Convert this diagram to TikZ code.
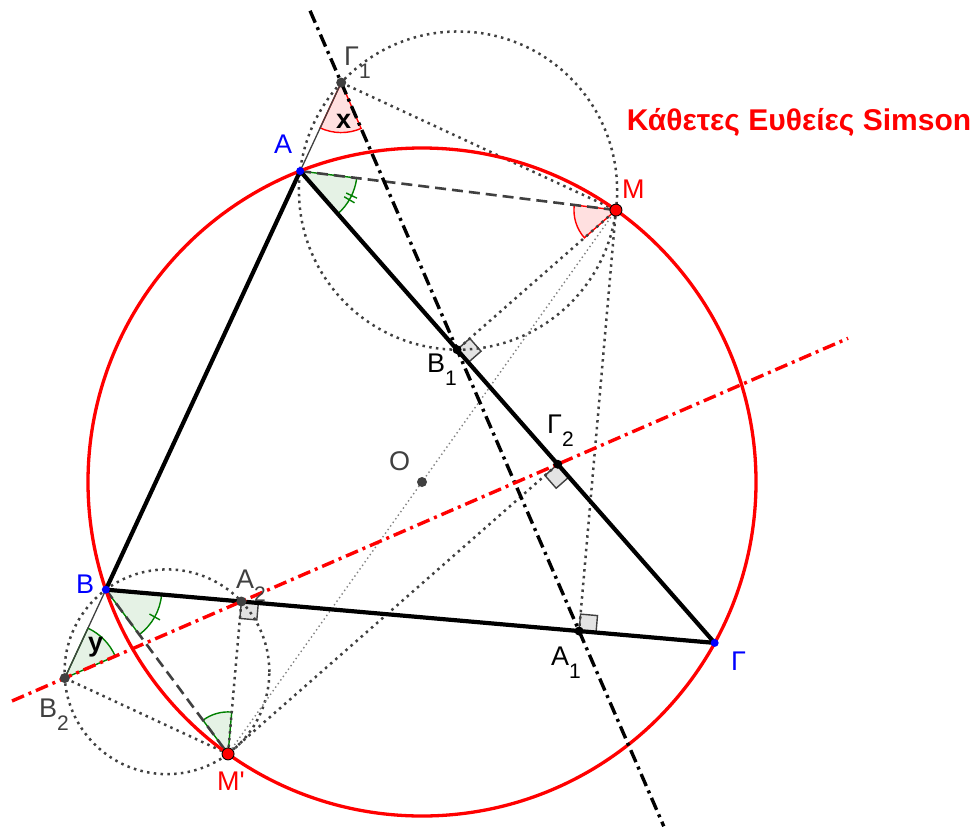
\documentclass[tikz,border=0pt]{standalone}
\usepackage{fontspec}
\setmainfont{Liberation Sans}
\usetikzlibrary{calc}
\definecolor{ptgray}{RGB}{64,64,64}
\definecolor{anggreen}{RGB}{0,128,0}
\newcommand{\sublbl}[2]{#1\raisebox{-13pt}{\fontsize{21}{21}\selectfont #2}}
\newcommand{\angsec}[5]{%
  \draw[#1] let \p1=($(#2)-(#3)$), \p2=($(#4)-(#3)$),
    \n1={atan2(\y1,\x1)}, \n2={mod(atan2(\y2,\x2)-atan2(\y1,\x1)+720,360)}
    in (#3) -- ++(\n1:#5) arc[start angle=\n1, delta angle=\n2, radius=#5] -- cycle;}
\newcommand{\rtmark}[3]{%
  \path ($(#1)!17pt!(#2)$) coordinate (ra) ($(#1)!17pt!(#3)$) coordinate (rb);
  \draw[rbox] (#1) -- (ra) -- ($(ra)+(rb)-(#1)$) -- (rb) -- cycle;}

\begin{document}
\begin{tikzpicture}[x=1pt,y=-1pt,
  dots/.style={ptgray,line width=2.5pt,dash pattern=on 2.5pt off 4.3pt},
  thindots/.style={gray,line width=1.4pt,dash pattern=on 1.4pt off 3pt},
  dashln/.style={ptgray,line width=2.6pt,dash pattern=on 11pt off 6pt},
  thinln/.style={ptgray,line width=1.3pt},
  tri/.style={black,line width=4.2pt,line join=round},
  simson/.style={line width=3.4pt,dash pattern=on 13pt off 5pt on 3pt off 5pt},
  pinkang/.style={draw=red,line width=1.4pt,fill=red,fill opacity=0.12},
  greenang/.style={draw=anggreen,line width=1.4pt,fill=anggreen,fill opacity=0.1},
  tick/.style={anggreen,line width=1.4pt},
  rbox/.style={draw=ptgray,line width=1.4pt,fill=gray!22},
  lbl/.style={anchor=base west,inner sep=0pt,font=\fontsize{27}{27}\selectfont},
  anglbl/.style={anchor=base west,inner sep=0pt,font=\bfseries\fontsize{27}{27}\selectfont}]
\useasboundingbox (0,0) rectangle (979,830);

\coordinate (O) at (422,482);
\coordinate (A) at ($(O)+(248.6:334)$);
\coordinate (B) at ($(O)+(161.2:334)$);
\coordinate (G) at ($(O)+(28.8:334)$);
\coordinate (M) at ($(O)+(305.5:334)$);
\coordinate (Mp) at ($(O)+(125.5:334)$);
\coordinate (G1) at ($(A)!(M)!(B)$);
\coordinate (B1) at ($(A)!(M)!(G)$);
\coordinate (A1) at ($(B)!(M)!(G)$);
\coordinate (B2) at ($(A)!(Mp)!(B)$);
\coordinate (G2) at ($(A)!(Mp)!(G)$);
\coordinate (A2) at ($(B)!(Mp)!(G)$);
\coordinate (s1) at ($(G1)!-0.131!(A1)$);
\coordinate (s2) at ($(G1)!1.356!(A1)$);
\coordinate (t1) at ($(B2)!-0.107!(G2)$);
\coordinate (t2) at ($(B2)!1.589!(G2)$);

% angles and right angles
\angsec{pinkang}{A}{G1}{B1}{50pt}
\angsec{pinkang}{A}{M}{B1}{42pt}
\angsec{greenang}{G}{A}{M}{57pt}
\angsec{greenang}{Mp}{B}{G}{56pt}
\angsec{greenang}{G2}{B2}{B}{55pt}
\angsec{greenang}{A2}{Mp}{B}{42pt}
\draw[tick] ($(A)+(-25.5:51pt)$) -- ($(A)+(-25.5:63pt)$);
\draw[tick] ($(A)+(-30.3:51pt)$) -- ($(A)+(-30.3:63pt)$);
\draw[tick] ($(B)+(-29.2:50pt)$) -- ($(B)+(-29.2:62pt)$);
\rtmark{B1}{G}{M}
\rtmark{A1}{G}{M}
\rtmark{G2}{G}{Mp}
\rtmark{A2}{G}{Mp}

% circles through the feet
\draw[dots] let \p1=($(M)-(A)$), \n1={veclen(\x1,\y1)/2} in ($(A)!0.5!(M)$) circle[radius=\n1];
\draw[dots] let \p1=($(Mp)-(B)$), \n1={veclen(\x1,\y1)/2} in ($(B)!0.5!(Mp)$) circle[radius=\n1];
\draw[dots] (G1) -- (M) -- (B1);
\draw[dots] (M) -- (A1);
\draw[dots] (Mp) -- (A2);
\draw[dots] (Mp) -- (B2);
\draw[dots] (Mp) -- (G2);
\draw[thindots] (M) -- (Mp);
\draw[thinln] (A) -- (G1);
\draw[thinln] (B) -- (B2);
\draw[dashln] (A) -- (M);
\draw[dashln] (B) -- (Mp);

\draw[red,line width=3.3pt] (O) circle[radius=334pt];
\draw[tri] (A) -- (B) -- (G) -- cycle;
\draw[simson,black] (s1) -- (s2);
\draw[simson,red] (t1) -- (t2);

% points
\foreach \p in {A,B,G} \fill[blue] (\p) circle[radius=4pt];
\foreach \p in {M,Mp} \filldraw[fill=red,draw=black,line width=0.9pt] (\p) circle[radius=6pt];
\foreach \p in {G1,B2,A2,O} \fill[ptgray] (\p) circle[radius=5pt];
\foreach \p in {B1,G2,A1} \fill[black] (\p) circle[radius=4.5pt];

% labels
\node[lbl,text=blue] (lA) at (274,153) {A};
\node[lbl,text=blue] (lB) at (76,593) {B};
\node[lbl,text=blue] (lG) at (731,670) {Γ};
\node[lbl,text=red] (lM) at (622,198) {M};
\node[lbl,text=red] (lMp) at (217,790) {M\textquotesingle};
\node[lbl,text=ptgray] (lG1) at (344,65) {\sublbl{Γ}{1}};
\node[lbl] (lB1) at (427,372) {\sublbl{B}{1}};
\node[lbl] (lG2) at (547,433) {\sublbl{Γ}{2}};
\node[lbl] (lA1) at (551,665) {\sublbl{A}{1}};
\node[lbl,text=ptgray] (lA2) at (236,588) {\sublbl{A}{2}};
\node[lbl,text=ptgray] (lB2) at (39,717) {\sublbl{B}{2}};
\node[lbl,text=ptgray] (lO) at (389,470) {O};
\node[anglbl] (lx) at (336,128) {x};
\node[anglbl] (ly) at (88,651) {y};
\node[anchor=base,inner sep=0pt,text=red,font=\bfseries\fontsize{30}{32}\selectfont] (title) at (799,130) {Κάθετες Ευθείες Simson};
\end{tikzpicture}
\end{document}
